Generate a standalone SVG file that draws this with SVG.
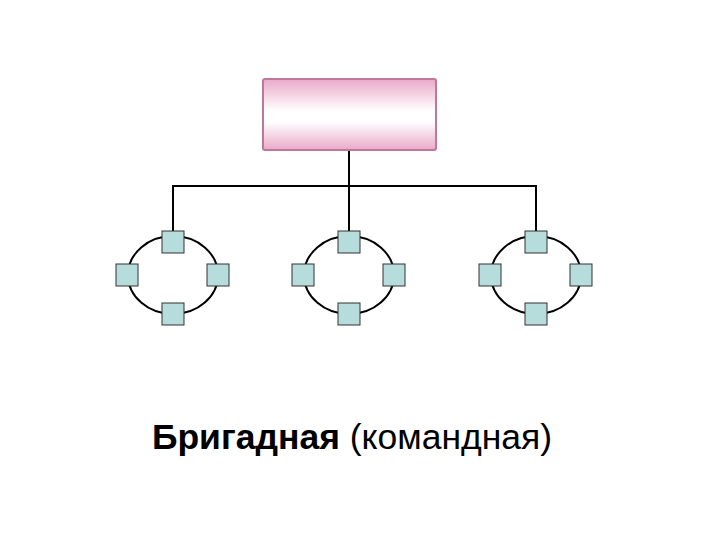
<svg xmlns="http://www.w3.org/2000/svg" width="720" height="540" viewBox="0 0 720 540">
<style>
.ln{stroke:#000;stroke-width:2;fill:none}
.sq{fill:#b6dcdc;stroke:#333;stroke-width:1}
.t{font-family:"Liberation Sans",Arial,sans-serif;font-size:35.5px;fill:#000}
</style>
<defs>
<linearGradient id="pg" x1="0" y1="0" x2="0" y2="1">
<stop offset="0" stop-color="#e9a9c9"/><stop offset="0.45" stop-color="#ffffff"/><stop offset="0.6" stop-color="#ffffff"/><stop offset="1" stop-color="#e9a9c9"/>
</linearGradient>
<g id="cl">
<ellipse class="ln" cx="0" cy="0" rx="45" ry="39"/>
<rect class="sq" x="-11" y="-44" width="22" height="22"/>
<rect class="sq" x="-57" y="-11" width="22" height="22"/>
<rect class="sq" x="34" y="-11" width="22" height="22"/>
<rect class="sq" x="-11" y="28" width="22" height="22"/>
</g>
</defs>
<g id="connectors">
<path class="ln" d="M349 150V231M173 231V186H536V231"/>
</g>
<g id="top"><rect x="263" y="79" width="173" height="71" rx="2" fill="url(#pg)" stroke="#c07898" stroke-width="2"/></g>
<g id="team1"><use href="#cl" x="173" y="275"/></g>
<g id="team2"><use href="#cl" x="349" y="275"/></g>
<g id="team3"><use href="#cl" x="536" y="275"/></g>
<text class="t" x="352" y="449" text-anchor="middle"><tspan font-weight="bold">Бригадная</tspan> (командная)</text>
</svg>
